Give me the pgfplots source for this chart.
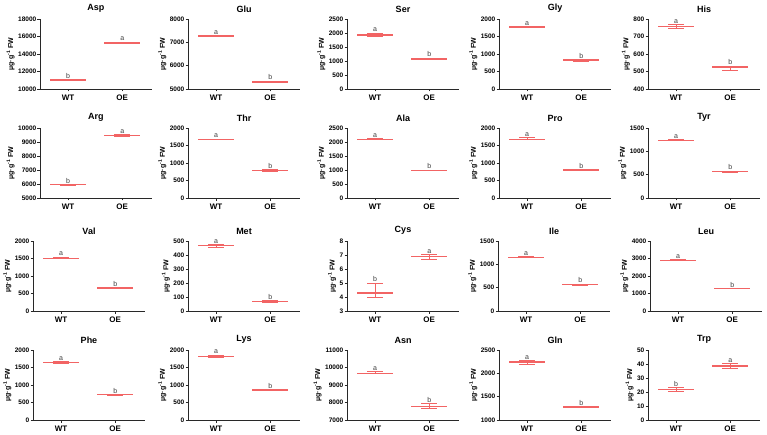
\documentclass[border=0pt]{standalone}
\usepackage{fontspec}
\setmainfont{Liberation Sans}
\usepackage{pgfplots}
\pgfplotsset{compat=1.18}
\definecolor{cR}{RGB}{242,100,100}
\definecolor{axc}{RGB}{40,40,40}
\definecolor{lettc}{RGB}{60,60,60}
\tikzset{lett/.style={font=\fontsize{7}{8}\selectfont, text=lettc, anchor=south, inner sep=1pt}}
\pgfplotsset{
 aa/.style={
  scale only axis, width=112pt, height=70pt, anchor=south west,
  axis lines=left, axis line style={-, axc, line width=0.6pt},
  xmin=-0.52, xmax=1.55, xtick={0,1}, xticklabels={WT,OE},
  enlargelimits=false, clip=false, scaled y ticks=false,
  tick align=outside, major tick length=2.5pt, tick style={axc, line width=0.6pt},
  /pgf/number format/assume math mode=true, /pgf/number format/1000 sep={},
  yticklabel style={font=\fontsize{6.5}{7}\selectfont\bfseries, inner sep=1pt},
  xticklabel style={font=\fontsize{8}{9}\selectfont\bfseries},
  title style={font=\fontsize{9}{10}\selectfont\bfseries, yshift=-3pt},
  ylabel={µg·g\textsuperscript{-1} FW},
  ylabel style={font=\fontsize{7}{8}\selectfont\bfseries, yshift=-1pt},
 },
 wl/.style={color=cR, line width=0.9pt, mark=none, forget plot},
}
% x, cap left, cap right, mean left, mean right, mean, low, high, letter
\newcommand{\grp}[9]{%
 \addplot[wl] coordinates {(#1,#7) (#1,#8)};
 \addplot[wl] coordinates {(#2,#7) (#3,#7)};
 \addplot[wl] coordinates {(#2,#8) (#3,#8)};
 \addplot[wl, line width=1.6pt] coordinates {(#4,#6) (#5,#6)};
 \node[lett] at (axis cs:#1,#8) {#9};
}
\newcommand{\gWT}{\grp{0}{-0.15}{0.15}{-0.33}{0.33}}
\newcommand{\gOE}{\grp{1}{0.85}{1.15}{0.67}{1.33}}
\begin{document}
\begin{tikzpicture}
\useasboundingbox (0,0) rectangle (767pt,434pt);
% Row 1
\begin{axis}[aa, at={(40pt,345pt)}, title={Asp}, ymin=10000, ymax=18000, ytick distance=2000]
\gWT{11000}{10940}{11060}{b}
\gOE{15250}{15190}{15350}{a}
\end{axis}
\begin{axis}[aa, at={(188pt,345pt)}, title={Glu}, ymin=5000, ymax=8000, ytick distance=1000]
\gWT{7270}{7255}{7285}{a}
\gOE{5310}{5280}{5340}{b}
\end{axis}
\begin{axis}[aa, at={(347pt,345pt)}, title={Ser}, ymin=0, ymax=2500, ytick distance=500]
\gWT{1930}{1890}{2000}{a}
\gOE{1080}{1060}{1100}{b}
\end{axis}
\begin{axis}[aa, at={(499pt,345pt)}, title={Gly}, ymin=0, ymax=2000, ytick distance=500]
\gWT{1770}{1750}{1790}{a}
\gOE{820}{790}{840}{b}
\end{axis}
\begin{axis}[aa, at={(648pt,345pt)}, title={His}, ymin=400, ymax=800, ytick distance=100]
\gWT{758}{748}{768}{a}
\gOE{524}{508}{530}{b}
\end{axis}
% Row 2
\begin{axis}[aa, at={(40pt,236pt)}, title={Arg}, ymin=5000, ymax=10000, ytick distance=1000]
\gWT{5950}{5930}{5980}{b}
\gOE{9470}{9380}{9520}{a}
\end{axis}
\begin{axis}[aa, at={(188pt,236pt)}, title={Thr}, ymin=0, ymax=2000, ytick distance=500]
\gWT{1676}{1666}{1686}{a}
\gOE{790}{770}{805}{b}
\end{axis}
\begin{axis}[aa, at={(347pt,236pt)}, title={Ala}, ymin=0, ymax=2500, ytick distance=500]
\gWT{2095}{2080}{2110}{a}
\gOE{988}{976}{1000}{b}
\end{axis}
\begin{axis}[aa, at={(499pt,236pt)}, title={Pro}, ymin=0, ymax=2000, ytick distance=500]
\gWT{1676}{1661}{1731}{a}
\gOE{800}{790}{820}{b}
\end{axis}
\begin{axis}[aa, at={(648pt,236pt)}, title={Tyr}, ymin=0, ymax=1500, ytick distance=500]
\gWT{1236}{1226}{1246}{a}
\gOE{564}{549}{579}{b}
\end{axis}
% Row 3
\begin{axis}[aa, at={(33pt,123pt)}, title={Val}, ymin=0, ymax=2000, ytick distance=500]
\gWT{1505}{1495}{1540}{a}
\gOE{655}{645}{665}{b}
\end{axis}
\begin{axis}[aa, at={(188pt,123pt)}, title={Met}, ymin=0, ymax=500, ytick distance=100]
\gWT{467}{457}{475}{a}
\gOE{69}{63}{75}{b}
\end{axis}
\begin{axis}[aa, at={(347pt,123pt)}, title={Cys}, ymin=3, ymax=8, ytick distance=1]
\gWT{4.3}{4.0}{5.0}{b}
\gOE{6.9}{6.65}{7.05}{a}
\end{axis}
\begin{axis}[aa, at={(498pt,123pt)}, title={Ile}, ymin=0, ymax=1500, ytick distance=500]
\gWT{1150}{1140}{1160}{a}
\gOE{564}{554}{574}{b}
\end{axis}
\begin{axis}[aa, at={(650pt,123pt)}, title={Leu}, ymin=0, ymax=4000, ytick distance=1000]
\gWT{2895}{2865}{2925}{a}
\gOE{1276}{1261}{1291}{b}
\end{axis}
% Row 4
\begin{axis}[aa, at={(33pt,14pt)}, title={Phe}, ymin=0, ymax=2000, ytick distance=500]
\gWT{1640}{1625}{1660}{a}
\gOE{725}{715}{735}{b}
\end{axis}
\begin{axis}[aa, at={(188pt,14pt)}, title={Lys}, ymin=0, ymax=2000, ytick distance=500]
\gWT{1815}{1800}{1850}{a}
\gOE{862}{850}{874}{b}
\end{axis}
\begin{axis}[aa, at={(347pt,14pt)}, title={Asn}, ymin=7000, ymax=11000, ytick distance=1000]
\gWT{9660}{9640}{9770}{a}
\gOE{7780}{7680}{7920}{b}
\end{axis}
\begin{axis}[aa, at={(499pt,14pt)}, title={Gln}, ymin=1000, ymax=2500, ytick distance=500]
\gWT{2240}{2200}{2270}{a}
\gOE{1275}{1265}{1285}{b}
\end{axis}
\begin{axis}[aa, at={(648pt,14pt)}, title={Trp}, ymin=0, ymax=50, ytick distance=10]
\gWT{21.8}{20.6}{23.3}{b}
\gOE{38.5}{37.0}{40.3}{a}
\end{axis}
\end{tikzpicture}
\end{document}
